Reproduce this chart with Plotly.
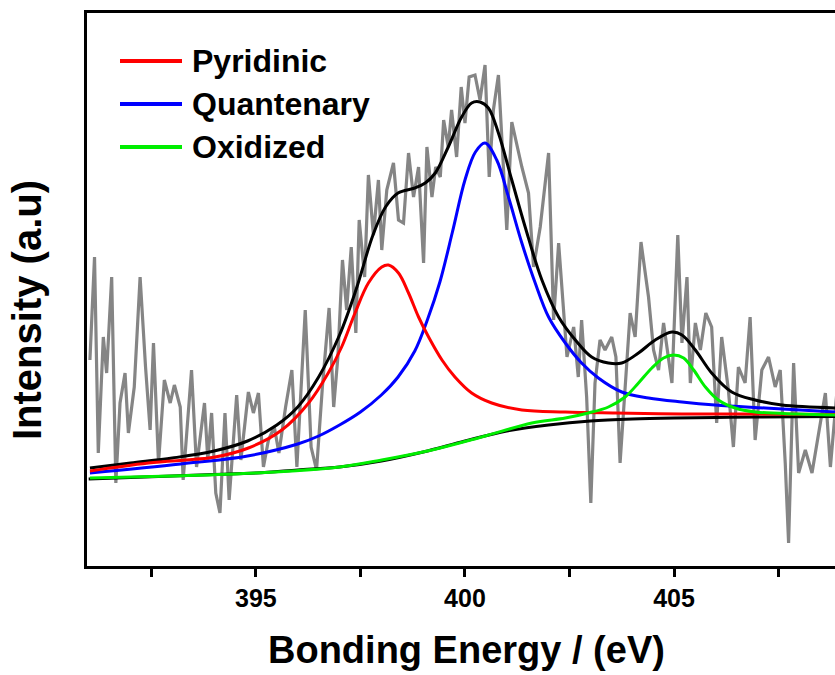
import plotly.graph_objects as go

# ---------------- data ----------------
raw_x = [391.03, 391.14, 391.23, 391.35, 391.43, 391.55, 391.65, 391.75, 391.87, 391.95,
         392.09, 392.23, 392.36, 392.47, 392.55, 392.67, 392.81, 392.95, 393.05, 393.19,
         393.26, 393.46, 393.58, 393.77, 393.85, 393.94, 394.04, 394.14, 394.26, 394.36,
         394.54, 394.64, 394.82, 394.94, 395.06, 395.18, 395.30, 395.44, 395.55, 395.71,
         395.86, 395.98, 396.18, 396.32, 396.45, 396.59, 396.75, 396.86, 396.96, 397.07,
         397.17, 397.28, 397.39, 397.47, 397.60, 397.69, 397.81, 397.93,
         398.01, 398.13, 398.29, 398.41, 398.53, 398.65, 398.77, 398.89, 399.01, 399.09,
         399.21, 399.30, 399.41, 399.49, 399.60, 399.68, 399.80, 399.91, 400.00, 400.10,
         400.24, 400.36, 400.48, 400.58, 400.68, 400.80, 401.00, 401.12, 401.36, 401.52,
         401.64, 401.80, 402.00, 402.12, 402.24, 402.33, 402.44, 402.60, 402.71, 402.79,
         402.91, 403.01, 403.11, 403.23, 403.35, 403.51, 403.61, 403.71, 403.83, 403.95,
         404.07, 404.21, 404.39, 404.51, 404.63, 404.75, 404.95, 405.09, 405.19, 405.31,
         405.39, 405.51, 405.63, 405.76, 405.90, 406.02, 406.14, 406.30, 406.42, 406.54,
         406.70, 406.82, 406.94, 407.10, 407.26, 407.42, 407.54, 407.66, 407.74, 407.86,
         407.98, 408.14, 408.30, 408.46, 408.62, 408.74, 408.90]
raw_y = [205, 308, 112, 228, 192, 288, 82, 162, 192, 132,
         178, 288, 198, 135, 222, 102, 185, 162, 180, 158,
         85, 195, 98, 162, 105, 152, 72, 52, 152, 65,
         170, 105, 173, 152, 172, 98, 125, 138, 112, 158,
         195, 98, 255, 118, 95, 178, 257, 158, 208, 305,
         255, 318, 232, 345, 288, 390, 330, 385,
         315, 375, 402, 345, 342, 412, 368, 398, 302, 418,
         368, 398, 388, 445, 418, 455, 408, 478, 442, 488,
         490, 465, 500, 388, 455, 490, 335, 443, 398, 372,
         298, 338, 412, 245, 322, 268, 208, 238, 188, 245,
         168, 62, 182, 225, 215, 228, 208, 102, 178, 252,
         228, 323, 268, 215, 195, 242, 182, 330, 222, 288,
         182, 242, 215, 252, 238, 142, 228, 175, 118, 198,
         182, 248, 125, 195, 208, 178, 195, 102, 22, 202,
         92, 115, 92, 132, 172, 98, 175]

env_x = [391.03, 392.0, 393.0, 394.0, 394.8, 395.5, 396.0, 396.5, 397.0, 397.4,
         397.8, 398.1, 398.4, 398.8, 399.05, 399.29, 399.60, 399.92, 400.16, 400.36,
         400.56, 400.80, 401.12, 401.44, 401.84, 402.24, 402.64, 403.03, 403.43, 403.75,
         404.15, 404.55, 404.95, 405.19, 405.51, 405.90, 406.38, 406.94, 407.58, 408.90]
env_y = [97, 102, 107, 114, 124, 140, 158, 188, 230, 276,
         330, 358, 372, 377, 382, 392, 418, 448, 462, 463,
         457, 432, 385, 338, 285, 248, 225, 208, 202, 202,
         212, 225, 233, 230, 215, 192, 173, 165, 160, 157]

base_x = [391.0, 392.0, 393.0, 394.0, 395.0, 396.0, 397.0, 398.0, 399.0, 400.0,
          401.0, 402.0, 403.0, 404.0, 405.0, 406.0, 407.0, 408.9]
base_y = [86, 87.5, 89, 90.5, 92, 95, 98, 104, 113, 124,
          134, 140, 144, 146, 147, 147.5, 148, 148.5]

pyr_x = [391.03, 392.43, 394.02, 394.82, 395.62, 396.26, 396.73, 397.05, 397.37, 397.69,
         398.01, 398.17, 398.41, 398.65, 398.89, 399.13, 399.45, 399.76, 400.16, 400.64,
         401.36, 402.40, 403.59, 405.19, 406.78, 408.90]
pyr_y = [94, 102, 108, 117, 135, 162, 192, 218, 252, 282,
         298, 300, 292, 272, 248, 228, 205, 188, 172, 162,
         155, 153, 152, 151, 151, 150.5]

qua_x = [391.03, 393.2, 394.8, 396.0, 396.5, 397.0, 397.5, 398.0, 398.4, 398.8,
         399.1, 399.4, 399.7, 400.0, 400.25, 400.48, 400.76, 401.04, 401.36, 401.68,
         402.00, 402.40, 402.79, 403.19, 403.75, 404.39, 405.19, 405.98, 407.18, 408.90]
qua_y = [92, 101, 109, 121, 129, 140, 153, 170, 188, 214,
         245, 283, 333, 385, 413, 422, 405, 368, 322, 282,
         248, 222, 202, 187, 173, 167, 163, 160, 157, 153]

oxi_x = [391.03, 393.0, 395.0, 397.0, 398.01, 399.21, 400.40, 401.60, 402.40, 402.95,
         403.43, 403.83, 404.15, 404.47, 404.75, 404.99, 405.23, 405.47, 405.75, 406.06,
         406.46, 406.94, 407.98, 408.90]
oxi_y = [87, 89, 92, 98, 105, 115, 128, 142, 147, 152,
         158, 168, 182, 197, 207, 210, 207, 195, 178, 165,
         157, 153, 151, 150]

tick_vals = [392.5, 395, 397.5, 400, 402.5, 405, 407.5]
tick_text = ["", "395", "", "400", "", "405", ""]

legend_names = ["Pyridinic", "Quantenary", "Oxidized"]
legend_colors = ["#ff0000", "#0000ff", "#00ee00"]

# ---------------- figure ----------------
FONT = "Liberation Sans, Arial, sans-serif"
W, H = 835, 675
ML, MR, MT, MB = 87, 0, 13, 109
PW, PH = W - ML - MR, H - MT - MB

def px_x(p):
    return (p - ML) / PW

def px_y(p):
    return (H - MB - p) / PH

fig = go.Figure()
fig.add_trace(go.Scatter(x=raw_x, y=raw_y, mode="lines",
                         line=dict(color="#858585", width=3.2), hoverinfo="skip"))
fig.add_trace(go.Scatter(x=env_x, y=env_y, mode="lines", line_shape="spline",
                         line=dict(color="black", width=3)))
fig.add_trace(go.Scatter(x=base_x, y=base_y, mode="lines", line_shape="spline",
                         line=dict(color="black", width=3)))
fig.add_trace(go.Scatter(x=qua_x, y=qua_y, mode="lines", line_shape="spline",
                         name=legend_names[1], line=dict(color=legend_colors[1], width=3)))
fig.add_trace(go.Scatter(x=pyr_x, y=pyr_y, mode="lines", line_shape="spline",
                         name=legend_names[0], line=dict(color=legend_colors[0], width=3)))
fig.add_trace(go.Scatter(x=oxi_x, y=oxi_y, mode="lines", line_shape="spline",
                         name=legend_names[2], line=dict(color=legend_colors[2], width=3)))

shapes = []
annotations = []
legend_rows = [61, 104, 147]
for name, col, yp in zip(legend_names, legend_colors, legend_rows):
    shapes.append(dict(type="line", xref="paper", yref="paper",
                       x0=px_x(120), x1=px_x(182), y0=px_y(yp), y1=px_y(yp),
                       line=dict(color=col, width=4)))
    annotations.append(dict(text=name, xref="paper", yref="paper",
                            x=px_x(190), y=px_y(yp), xanchor="left", yanchor="middle",
                            showarrow=False,
                            font=dict(family=FONT, size=32, color="black", weight="bold")))

annotations.append(dict(text="Bonding Energy / (eV)", xref="paper", yref="paper",
                        x=px_x(466), y=px_y(650), xanchor="center", yanchor="middle",
                        showarrow=False,
                        font=dict(family=FONT, size=38, color="black", weight="bold")))
annotations.append(dict(text="Intensity (a.u)", xref="paper", yref="paper",
                        x=px_x(27), y=px_y(310), xanchor="center", yanchor="middle",
                        textangle=-90, showarrow=False,
                        font=dict(family=FONT, size=40, color="black", weight="bold")))

fig.update_layout(
    width=W, height=H,
    margin=dict(l=ML, r=MR, t=MT, b=MB, pad=0),
    plot_bgcolor="white", paper_bgcolor="white",
    showlegend=False,
    shapes=shapes, annotations=annotations,
    xaxis=dict(range=[390.96, 408.85], tickvals=tick_vals, ticktext=tick_text,
               ticks="outside", ticklen=8, tickwidth=3, tickcolor="black",
               showline=True, linewidth=3, linecolor="black", mirror=True,
               showgrid=False, zeroline=False,
               tickfont=dict(family=FONT, size=25, color="black", weight="bold")),
    yaxis=dict(range=[-1, 552], showline=True, linewidth=3, linecolor="black",
               showticklabels=False, ticks="", showgrid=False, zeroline=False),
)

fig.write_html("out.html")
